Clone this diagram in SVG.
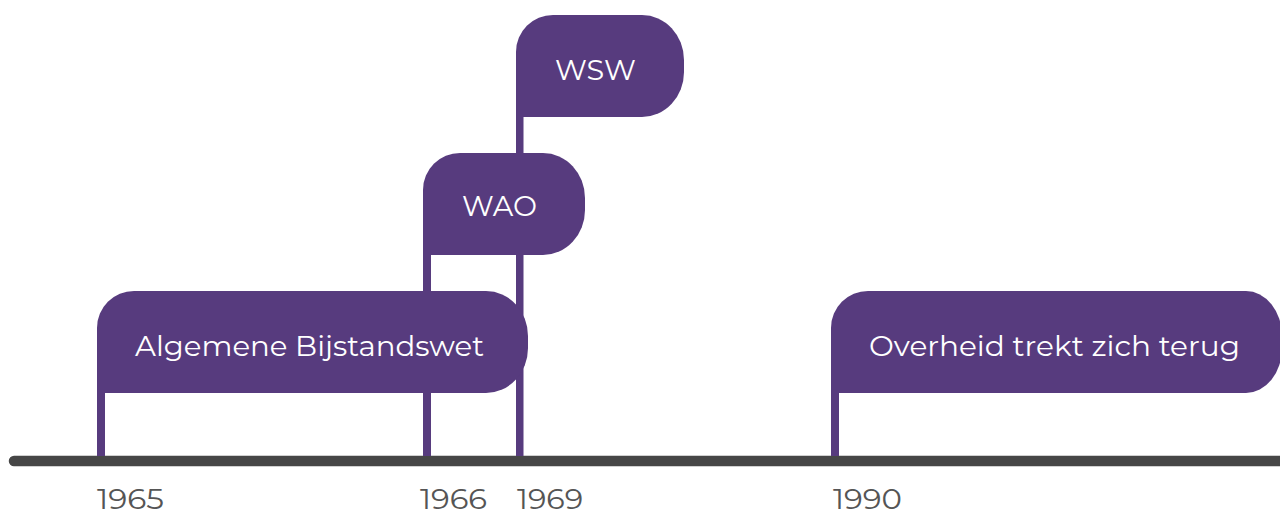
<svg xmlns="http://www.w3.org/2000/svg" width="1280" height="513" viewBox="0 0 1280 513">
<style>
.flag{fill:#573b7e}
.pole{fill:#573b7e}
.lbl{font-family:"Montserrat","Lato","Open Sans",sans-serif;font-size:28px;fill:#ffffff;text-anchor:middle;font-weight:400}
.yr{font-family:"Montserrat","Lato","Open Sans",sans-serif;font-size:28px;fill:#555555;font-weight:400}
</style>
<rect width="1280" height="513" fill="#ffffff"/>
<g id="connectors">
<line x1="14" y1="461" x2="1290" y2="461" stroke="#464646" stroke-width="10.5" stroke-linecap="round"/>
<rect class="pole" x="97" y="380" width="8" height="76"/>
<rect class="pole" x="423" y="240" width="8" height="216"/>
<rect class="pole" x="516" y="100" width="7.5" height="356"/>
<rect class="pole" x="831" y="380" width="8" height="76"/>
</g>
<g id="node-wsw">
<path class="flag" d="M516,117 V52 A37,37 0 0 1 553,15 H642 A42,45 0 0 1 684,60 V72 A42,45 0 0 1 642,117 Z"/>
<text class="lbl" x="595.5" y="80" textLength="81" lengthAdjust="spacingAndGlyphs">WSW</text>
<text class="yr" x="517" y="509" textLength="66" lengthAdjust="spacingAndGlyphs">1969</text>
</g>
<g id="node-wao">
<path class="flag" d="M423,255 V190 A37,37 0 0 1 460,153 H543 A42,45 0 0 1 585,198 V210 A42,45 0 0 1 543,255 Z"/>
<text class="lbl" x="499.5" y="216" textLength="75" lengthAdjust="spacingAndGlyphs">WAO</text>
<text class="yr" x="420" y="509" textLength="67" lengthAdjust="spacingAndGlyphs">1966</text>
</g>
<g id="node-abw">
<path class="flag" d="M97,393 V328 A37,37 0 0 1 134,291 H486 A42,45 0 0 1 528,336 V348 A42,45 0 0 1 486,393 Z"/>
<text class="lbl" x="309.5" y="356" textLength="349" lengthAdjust="spacingAndGlyphs">Algemene Bijstandswet</text>
<text class="yr" x="97" y="509" textLength="67" lengthAdjust="spacingAndGlyphs">1965</text>
</g>
<g id="node-overheid">
<path class="flag" d="M831,393 V328 A37,37 0 0 1 868,291 H1246 A36,45 0 0 1 1282,336 V348 A36,45 0 0 1 1246,393 Z"/>
<text class="lbl" x="1054.5" y="356" textLength="371" lengthAdjust="spacingAndGlyphs">Overheid trekt zich terug</text>
<text class="yr" x="833" y="509" textLength="69" lengthAdjust="spacingAndGlyphs">1990</text>
</g>
</svg>
